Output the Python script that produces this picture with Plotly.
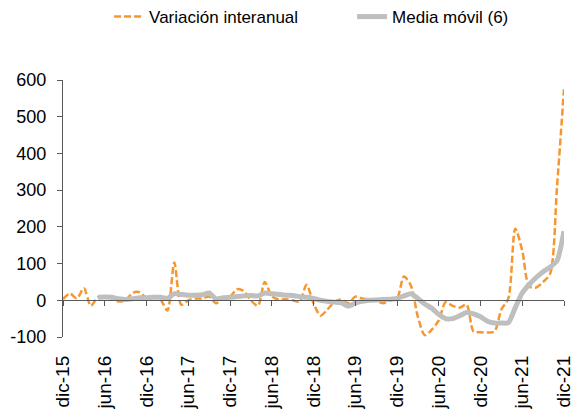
import plotly.graph_objects as go

months = ["dic", "ene", "feb", "mar", "abr", "may", "jun", "jul", "ago", "sep", "oct", "nov"]
# monthly categories dic-15 .. dic-21
categories = []
for k in range(73):
    m = k % 12
    yr = 15 + (k + 11) // 12
    categories.append(f"{months[m]}-{yr:02d}")

variacion = [3, 18, 5, 33, -15, 8, 10, 5, -3, 0, 20, 22,
             6, 8, 2, -28, 103, -12, 0, 5, 5, 10, -8, 5,
             10, 30, 25, 0, -15, 50, 12, 2, 3, 0, -3, 42,
             -8, -42, -25, -5, 2, -8, 10, 5, 2, -2, -8, 0,
             5, 65, 40, -45, -95, -80, -55, -5, -15, -20, -12, -85,
             -87, -88, -85, -25, 5, 195, 135, 38, 35, 50, 72, 310,
             575]

media = [None, None, None, None, None, 8, 9, 8, 4, 2, 4, 7,
         7, 8, 8, 5, 18, 16, 14, 14, 15, 20, 4, 7,
         8, 10, 12, 13, 12, 20, 18, 16, 14, 13, 10, 8,
         5, 0, -3, -5, -7, -16, -8, -3, 0, 1, 2, 3,
         5, 12, 18, 5, -10, -22, -38, -50, -50, -42, -33, -37,
         -45, -57, -62, -62, -61, -20, 20, 43, 62, 78, 90, 108,
         188]

y_tickvals = [-100, 0, 100, 200, 300, 400, 500, 600]
y_ticktext = ["-100", "0", "100", "200", "300", "400", "500", "600"]

tick_idx = list(range(0, 73, 6))
tick_labels = [categories[i] for i in tick_idx]
xpos = list(range(73))

fig = go.Figure()
fig.add_trace(go.Scatter(
    x=xpos, y=variacion, mode="lines", name="Variación interanual", legend="legend",
    line=dict(color="#F7962F", width=2.5, dash="7px,3px", shape="spline", smoothing=0.8),
))
fig.add_trace(go.Scatter(
    x=xpos, y=media, mode="lines", name="Media móvil (6)", legend="legend2",
    line=dict(color="#BFBFBF", width=5, shape="spline", smoothing=0.6),
))
# axis at zero carrying tick marks
fig.add_trace(go.Scatter(x=[0, 72], y=[None, None], xaxis="x2", showlegend=False, hoverinfo="skip"))

legend_common = dict(orientation="h", xanchor="left", y=1.245, yanchor="middle",
                     font=dict(size=17), bgcolor="rgba(0,0,0,0)")

fig.update_layout(
    width=573, height=412,
    margin=dict(l=63, r=9, t=80, b=75, autoexpand=False),
    plot_bgcolor="white", paper_bgcolor="white",
    font=dict(family="Liberation Sans, Arial, sans-serif", size=16, color="#000000"),
    showlegend=True,
    legend=dict(x=0.092, **legend_common),
    legend2=dict(x=0.577, **legend_common),
    xaxis=dict(range=[0, 72], tickmode="array", tickvals=tick_idx, ticktext=tick_labels,
               tickangle=-90, showline=False, showgrid=False, zeroline=False, ticks="",
               tickfont=dict(size=19), ticklabelstandoff=14, ticklabeloverflow="allow"),
    xaxis2=dict(range=[0, 72], overlaying="x", anchor="free", position=1/7,
                tickmode="array", tickvals=tick_idx, showticklabels=False,
                showline=True, linecolor="#595959", linewidth=1.3,
                ticks="outside", ticklen=5, tickcolor="#595959", tickwidth=1.3,
                showgrid=False, zeroline=False),
    yaxis=dict(range=[-100, 600], tickmode="array", tickvals=y_tickvals, ticktext=y_ticktext,
               showline=True, linecolor="#595959", linewidth=1.3,
               ticks="outside", ticklen=5, tickcolor="#595959", tickwidth=1.3,
               showgrid=False, zeroline=False, tickfont=dict(size=18), ticklabelstandoff=7),
)

fig.write_html("out.html", config={"displayModeBar": False},
               post_script="document.body.style.margin='0px';document.body.style.padding='0px';")
